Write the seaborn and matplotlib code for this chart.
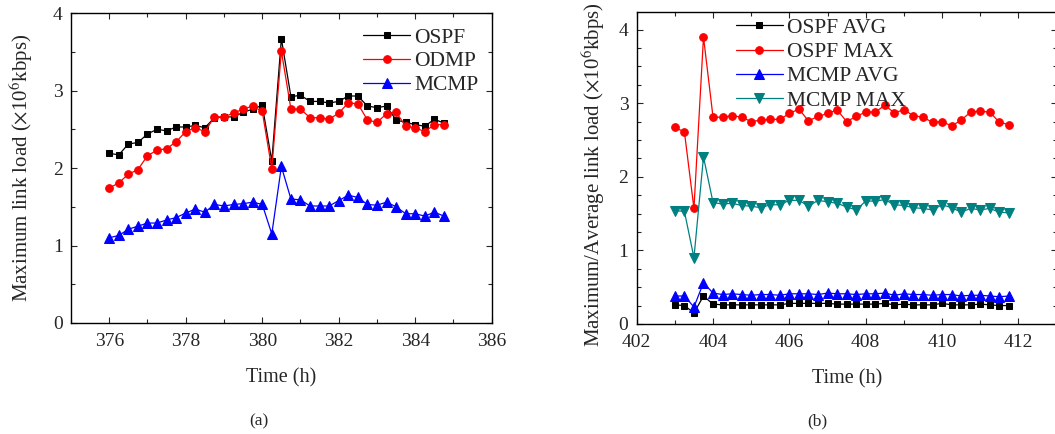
import numpy as np
import pandas as pd
import seaborn as sns
from matplotlib import pyplot as plt
from matplotlib.ticker import MultipleLocator

# panel (a): maximum link load
time_a = [376 + 0.25 * i for i in range(36)]
ospf = [2.19, 2.17, 2.31, 2.33, 2.44, 2.50, 2.48, 2.53, 2.53, 2.55, 2.52, 2.65,
        2.66, 2.66, 2.72, 2.76, 2.81, 2.09, 3.67, 2.92, 2.94, 2.86, 2.86, 2.84,
        2.86, 2.93, 2.93, 2.80, 2.78, 2.80, 2.62, 2.59, 2.56, 2.54, 2.63, 2.58]
odmp = [1.74, 1.81, 1.92, 1.98, 2.16, 2.23, 2.25, 2.34, 2.47, 2.52, 2.47, 2.66,
        2.66, 2.71, 2.76, 2.80, 2.73, 1.99, 3.51, 2.76, 2.76, 2.65, 2.65, 2.63,
        2.71, 2.84, 2.83, 2.62, 2.59, 2.70, 2.72, 2.54, 2.52, 2.47, 2.56, 2.56]
mcmp = [1.10, 1.13, 1.21, 1.25, 1.29, 1.29, 1.33, 1.36, 1.42, 1.47, 1.43, 1.53,
        1.51, 1.53, 1.54, 1.56, 1.53, 1.15, 2.02, 1.60, 1.59, 1.51, 1.51, 1.51,
        1.58, 1.65, 1.62, 1.53, 1.52, 1.56, 1.50, 1.41, 1.41, 1.38, 1.43, 1.38]

# panel (b): maximum / average link load
time_b = [403 + 0.25 * i for i in range(36)]
ospf_avg = [0.26, 0.25, 0.15, 0.38, 0.27, 0.26, 0.26, 0.26, 0.26, 0.26, 0.26, 0.26,
            0.28, 0.28, 0.28, 0.28, 0.28, 0.27, 0.27, 0.27, 0.27, 0.27, 0.28, 0.26,
            0.27, 0.26, 0.26, 0.26, 0.28, 0.26, 0.26, 0.26, 0.27, 0.26, 0.25, 0.25]
ospf_max = [2.67, 2.61, 1.57, 3.90, 2.81, 2.81, 2.83, 2.81, 2.75, 2.77, 2.78, 2.78,
            2.86, 2.92, 2.76, 2.82, 2.86, 2.91, 2.75, 2.82, 2.88, 2.88, 2.97, 2.87,
            2.91, 2.83, 2.81, 2.74, 2.75, 2.69, 2.77, 2.88, 2.89, 2.88, 2.74, 2.71]
mcmp_avg = [0.38, 0.38, 0.23, 0.56, 0.42, 0.40, 0.41, 0.40, 0.39, 0.40, 0.40, 0.39,
            0.41, 0.41, 0.41, 0.40, 0.42, 0.41, 0.41, 0.40, 0.41, 0.41, 0.42, 0.39,
            0.41, 0.40, 0.40, 0.39, 0.40, 0.40, 0.38, 0.39, 0.39, 0.38, 0.37, 0.38]
mcmp_max = [1.54, 1.53, 0.90, 2.27, 1.65, 1.63, 1.64, 1.61, 1.60, 1.58, 1.62, 1.62,
            1.68, 1.68, 1.60, 1.68, 1.66, 1.64, 1.59, 1.55, 1.67, 1.67, 1.69, 1.62,
            1.61, 1.58, 1.57, 1.55, 1.62, 1.58, 1.52, 1.57, 1.55, 1.57, 1.52, 1.51]

sns.set_style("ticks")
plt.rcParams["font.family"] = ["Liberation Serif", "DejaVu Serif"]
plt.rcParams["mathtext.fontset"] = "stix"

fig = plt.figure(figsize=(10.55, 4.34), dpi=100)
ax1 = fig.add_axes([0.0673, 0.2558, 0.3988, 0.714])
ax2 = fig.add_axes([0.6035, 0.2535, 0.398, 0.719])


def draw(ax, x, y, label, color, marker, ms):
	sns.lineplot(x=x, y=y, ax=ax, color=color, marker=marker, markersize=ms,
				 markeredgecolor=color, linewidth=0.9, label=label)


draw(ax1, time_a, ospf, "OSPF", "black", "s", 5)
draw(ax1, time_a, odmp, "ODMP", "red", "o", 5.5)
draw(ax1, time_a, mcmp, "MCMP", "blue", "^", 7)

draw(ax2, time_b, ospf_avg, "OSPF AVG", "black", "s", 5)
draw(ax2, time_b, ospf_max, "OSPF MAX", "red", "o", 5.5)
draw(ax2, time_b, mcmp_avg, "MCMP AVG", "blue", "^", 7)
draw(ax2, time_b, mcmp_max, "MCMP MAX", "teal", "v", 7)

ylabel_txt = r"load ($\times$10$^6$kbps)"
ax1.set_xlim(375, 386)
ax1.set_ylim(0, 4)
ax1.xaxis.set_major_locator(MultipleLocator(2))
ax1.xaxis.set_minor_locator(MultipleLocator(1))
ax1.yaxis.set_major_locator(MultipleLocator(1))
ax1.yaxis.set_minor_locator(MultipleLocator(0.5))
ax1.set_ylabel("Maximum link " + ylabel_txt, fontsize=15)
ax1.yaxis.set_label_coords(-0.086, 0.5)

ax2.set_xlim(402, 413)
ax2.set_ylim(0, 4.24)
ax2.xaxis.set_major_locator(MultipleLocator(2))
ax2.xaxis.set_minor_locator(MultipleLocator(1))
ax2.yaxis.set_major_locator(MultipleLocator(1))
ax2.yaxis.set_minor_locator(MultipleLocator(0.25))
ax2.set_ylabel("Maximum/Average link " + ylabel_txt, fontsize=15)
ax2.yaxis.set_label_coords(-0.07, 0.48)

for ax in (ax1, ax2):
	ax.set_xlabel("Time (h)", fontsize=14.5)
	ax.xaxis.set_label_coords(0.5, -0.146)
	ax.tick_params(which="both", direction="in", top=True, right=True, labelsize=14, width=0.8)
	ax.tick_params(axis="x", pad=7)
	ax.tick_params(axis="y", pad=6)
	ax.tick_params(which="major", length=4)
	ax.tick_params(which="minor", length=3)
	for s in ax.spines.values():
		s.set_linewidth(1.0)
		s.set_color("black")

ax1.legend(loc="upper right", bbox_to_anchor=(1.0, 0.995), frameon=False, fontsize=15.5,
		   handlelength=2.2, handletextpad=0.2, labelspacing=0.17, borderaxespad=0.2)
ax2.legend(loc="upper left", bbox_to_anchor=(0.2, 1.03), frameon=False, fontsize=15.5,
		   handlelength=2.2, handletextpad=0.2, labelspacing=0.2, borderaxespad=0.3)

fig.text(0.2455, 0.02, "(a)", fontsize=12.5, ha="center")
fig.text(0.775, 0.02, "(b)", fontsize=12.5, ha="center")

fig.savefig("out.png", dpi=100)
